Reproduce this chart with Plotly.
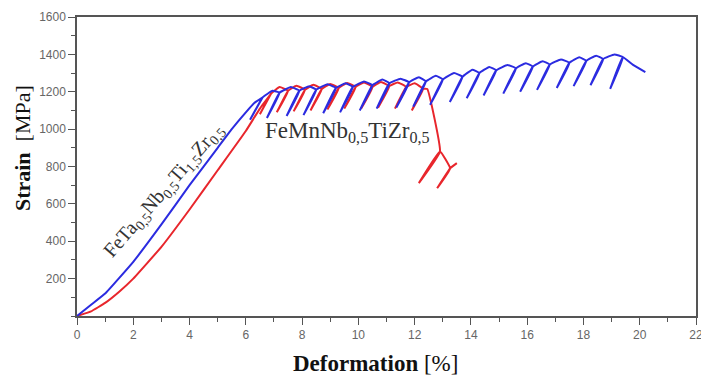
import plotly.graph_objects as go

# ---- data ----
blue_load_x = [0, 0.5, 1, 2, 3, 4, 5, 5.5, 6, 6.3, 6.6]
blue_load_y = [0, 60, 120, 290, 490, 700, 900, 1000, 1090, 1140, 1170]
blue_peak_x = [6.6, 7.2, 7.9, 8.5, 9.2, 9.8, 10.5, 11.1, 11.8, 12.4, 13.0, 13.7, 14.3, 14.9, 15.6, 16.2, 16.8, 17.5, 18.1, 18.7, 19.4]
blue_peak_y = [1170, 1195, 1205, 1210, 1220, 1225, 1235, 1245, 1250, 1255, 1265, 1280, 1300, 1315, 1325, 1335, 1345, 1355, 1365, 1375, 1385]
blue_valley_x = [6.15, 6.75, 7.45, 8.05, 8.75, 9.35, 10.05, 10.65, 11.35, 11.95, 12.55, 13.25, 13.85, 14.45, 15.15, 15.75, 16.35, 17.05, 17.65, 18.25, 18.95]
blue_valley_y = [1050, 1060, 1070, 1075, 1085, 1090, 1100, 1110, 1115, 1120, 1130, 1145, 1165, 1180, 1190, 1200, 1210, 1220, 1230, 1235, 1215]
blue_hump_x = [6.95, 7.6, 8.25, 8.9, 9.55, 10.2, 10.85, 11.5, 12.15, 12.75, 13.4, 14.05, 14.65, 15.3, 15.95, 16.55, 17.2, 17.85, 18.45, 19.1]
blue_hump_y = [1205, 1225, 1230, 1240, 1245, 1255, 1265, 1270, 1278, 1285, 1300, 1318, 1333, 1343, 1353, 1363, 1373, 1385, 1393, 1400]
blue_tail_x = [19.75, 20.2]
blue_tail_y = [1345, 1305]

red_load_x = [0, 0.5, 1, 1.5, 2, 3, 4, 5, 6, 6.5, 6.9]
red_load_y = [0, 25, 70, 130, 200, 370, 570, 780, 990, 1110, 1190]
red_peak_x = [6.9, 7.5, 8.1, 8.7, 9.3, 9.9, 10.5, 11.1, 11.7, 12.3]
red_peak_y = [1190, 1205, 1210, 1215, 1220, 1225, 1225, 1230, 1225, 1215]
red_valley_x = [6.5, 7.1, 7.7, 8.3, 8.9, 9.5, 10.1, 10.7, 11.3, 11.9]
red_valley_y = [1080, 1090, 1095, 1100, 1105, 1110, 1110, 1115, 1110, 1100]
red_hump_x = [7.2, 7.8, 8.4, 9.0, 9.6, 10.2, 10.8, 11.4, 12.0]
red_hump_y = [1225, 1232, 1237, 1242, 1247, 1250, 1252, 1250, 1245]
red_tail_x = [12.45, 12.9, 12.15, 12.9, 13.26, 12.8, 13.26, 13.5]
red_tail_y = [1215, 880, 711, 880, 790, 684, 790, 818]

x_ticks = [0, 2, 4, 6, 8, 10, 12, 14, 16, 18, 20, 22]
y_ticks = [200, 400, 600, 800, 1000, 1200, 1400, 1600]


def build(load_x, load_y, px, py, vx, vy, hx, hy, tx, ty):
    xs, ys = list(load_x), list(load_y)
    for i, (a, b, c, d) in enumerate(zip(px, py, vx, vy)):
        xs += [a, c, a]
        ys += [b, d, b]
        if i < len(hx):
            xs.append(hx[i])
            ys.append(hy[i])
    xs += tx
    ys += ty
    return xs, ys


bx, by = build(blue_load_x, blue_load_y, blue_peak_x, blue_peak_y,
               blue_valley_x, blue_valley_y, blue_hump_x, blue_hump_y,
               blue_tail_x, blue_tail_y)
rx, ry = build(red_load_x, red_load_y, red_peak_x, red_peak_y,
               red_valley_x, red_valley_y, red_hump_x, red_hump_y,
               red_tail_x, red_tail_y)

fig = go.Figure()
fig.add_trace(go.Scatter(x=rx, y=ry, mode="lines",
                         line=dict(color="#e8262c", width=2, shape="spline", smoothing=0.3),
                         showlegend=False))
fig.add_trace(go.Scatter(x=bx, y=by, mode="lines",
                         line=dict(color="#2b2be0", width=2, shape="spline", smoothing=0.3),
                         showlegend=False))

fig.add_annotation(x=3.1, y=670, xref="x", yref="y", showarrow=False,
                   text="FeTa<sub>0,5</sub>Nb<sub>0,5</sub>Ti<sub>1,5</sub>Zr<sub>0,5</sub>",
                   textangle=-49,
                   font=dict(family="Liberation Serif", size=20, color="#333333"))
fig.add_annotation(x=9.6, y=985, xref="x", yref="y", showarrow=False,
                   text="FeMnNb<sub>0,5</sub>TiZr<sub>0,5</sub>",
                   font=dict(family="Liberation Serif", size=23, color="#333333"))

# axis titles
fig.add_annotation(x=0.483, y=-0.16, xref="paper", yref="paper", showarrow=False,
                   xanchor="center", yanchor="middle",
                   text="<b>Deformation</b> [%]",
                   font=dict(family="Liberation Serif", size=23, color="#111111"))
fig.add_annotation(x=-0.088, y=0.56, xref="paper", yref="paper", showarrow=False,
                   xanchor="center", yanchor="middle",
                   text="<b>Strain</b>  [MPa]", textangle=-90,
                   font=dict(family="Liberation Serif", size=22, color="#111111"))

axis_common = dict(showline=True, linecolor="#555555", linewidth=1.5, mirror=True,
                   ticks="outside", ticklen=7, tickcolor="#555555", showgrid=False,
                   zeroline=False, automargin=False,
                   tickfont=dict(family="Liberation Sans", size=12, color="#666666"))

fig.update_xaxes(range=[0, 22], tickvals=x_ticks, ticktext=[str(v) for v in x_ticks],
                 ticklabeloverflow="allow",
                 minor=dict(ticks="outside", ticklen=4, dtick=1, tickcolor="#555555"),
                 **axis_common)
fig.update_yaxes(range=[0, 1600], tickvals=y_ticks, ticktext=[str(v) for v in y_ticks],
                 minor=dict(ticks="outside", ticklen=4, dtick=100, tickcolor="#555555"),
                 **axis_common)

fig.update_layout(width=701, height=371, plot_bgcolor="white", paper_bgcolor="white",
                  margin=dict(l=69, r=13, t=9, b=63))

fig.write_html("out.html")
